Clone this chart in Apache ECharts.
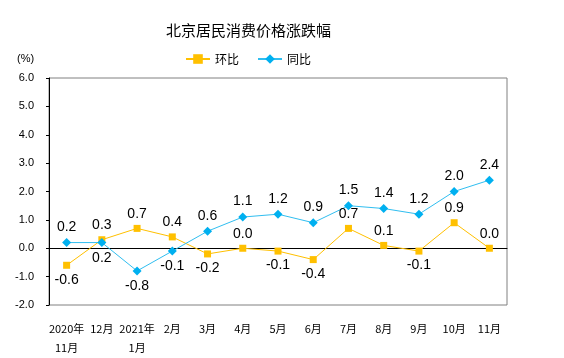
<!DOCTYPE html>
<html><head><meta charset="utf-8">
<script src="https://cdn.jsdelivr.net/npm/echarts@6/dist/echarts.min.js"></script>
<style>html,body{margin:0;padding:0;background:#fff}#c{width:564px;height:358px}</style>
</head><body><div id="c"></div>
<script>
const categories = ['2020年\n11月','12月','2021年\n1月','2月','3月','4月','5月','6月','7月','8月','9月','10月','11月'];
const momValues = [-0.6, 0.3, 0.7, 0.4, -0.2, 0.0, -0.1, -0.4, 0.7, 0.1, -0.1, 0.9, 0.0];
const yoyValues = [0.2, 0.2, -0.8, -0.1, 0.6, 1.1, 1.2, 0.9, 1.5, 1.4, 1.2, 2.0, 2.4];
const yoyBelow = [1];
const seriesNames = ['环比', '同比'];
const titleText = '北京居民消费价格涨跌幅';
const yMin = -2, yMax = 6, yStep = 1;

const labelFont = {fontFamily: 'Liberation Sans, Arial, sans-serif', fontSize: 14, color: '#000'};
function pts(vals, belowIdx) {
  return vals.map((v, i) => ({
    value: v,
    label: {position: (v < 0 || belowIdx.includes(i)) ? 'bottom' : 'top'}
  }));
}
const chart = echarts.init(document.getElementById('c'), null, {renderer: 'canvas'});
chart.setOption({
  animation: false,
  backgroundColor: '#fff',
  title: {text: titleText, left: 161, top: 18, padding: 5,
    textStyle: {fontFamily: 'Noto Sans CJK SC', fontSize: 15, fontWeight: 'normal', color: '#000'}},
  legend: {left: 180, top: 48, itemGap: 18, itemWidth: 24, itemHeight: 12,
    textStyle: {fontFamily: 'Noto Sans CJK SC', fontSize: 12, color: '#000'},
    data: seriesNames},
  graphic: [{type: 'text', left: 17, top: 53,
    style: {text: '(%)', font: '11px "Liberation Sans", Arial', fill: '#000'}}],
  grid: {left: 49, right: 57, top: 78, bottom: 53, show: true, borderColor: '#808080', borderWidth: 1, containLabel: false},
  xAxis: [
    {type: 'category', data: categories, position: 'bottom',
      axisLine: {onZero: true, lineStyle: {color: '#000', width: 1}},
      axisTick: {inside: true, length: 3, lineStyle: {color: '#000'}},
      axisLabel: {show: false}, splitLine: {show: false}},
    {type: 'category', data: categories, position: 'bottom',
      axisLine: {show: false, onZero: false}, axisTick: {show: false},
      axisLabel: {margin: 14, fontFamily: 'Noto Sans CJK SC', fontSize: 11, color: '#000', lineHeight: 19, interval: 0},
      splitLine: {show: false}}
  ],
  yAxis: {type: 'value', min: yMin, max: yMax, interval: yStep,
    axisLine: {show: true, lineStyle: {color: '#000'}},
    axisTick: {show: true, length: 3, lineStyle: {color: '#000'}},
    axisLabel: {margin: 15, formatter: v => v.toFixed(1), fontFamily: 'Liberation Sans, Arial', fontSize: 11, color: '#000'},
    splitLine: {show: false}},
  series: [
    {name: seriesNames[0], type: 'line', xAxisIndex: 0, data: pts(momValues, []),
      symbol: 'rect', symbolSize: 7, showAllSymbol: true,
      itemStyle: {color: '#FFC000'}, lineStyle: {color: '#FFC000', width: 1},
      label: {show: true, distance: 4, formatter: p => p.value.toFixed(1), ...labelFont}},
    {name: seriesNames[1], type: 'line', xAxisIndex: 0, data: pts(yoyValues, yoyBelow),
      symbol: 'diamond', symbolSize: 9, showAllSymbol: true,
      itemStyle: {color: '#00B0F0'}, lineStyle: {color: '#30BEF0', width: 1},
      label: {show: true, distance: 4, formatter: p => p.value.toFixed(1), ...labelFont}}
  ]
});
</script></body></html>
